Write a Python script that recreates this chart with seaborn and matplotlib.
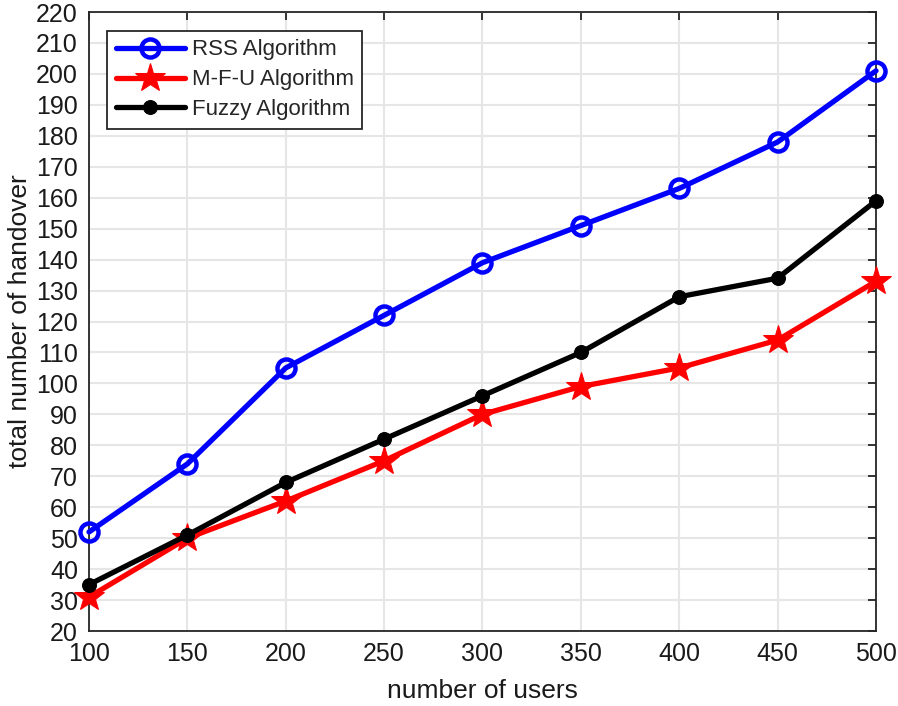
import pandas as pd
import matplotlib
matplotlib.use('Agg')
import matplotlib.pyplot as plt
import seaborn as sns

# Datos
users = [100, 150, 200, 250, 300, 350, 400, 450, 500]
rss = [52, 74, 105, 122, 139, 151, 163, 178, 201]
mfu = [31, 50, 62, 75, 90, 99, 105, 114, 133]
fuzzy = [35, 51, 68, 82, 96, 110, 128, 134, 159]

sns.set_style('whitegrid')
plt.rcParams['font.family'] = ['Liberation Sans', 'DejaVu Sans']

fig = plt.figure(figsize=(8.98, 7.06), dpi=100)
ax = fig.add_axes([0.0991, 0.1062, 0.8764, 0.8768])

df = pd.DataFrame({'users': users, 'rss': rss, 'mfu': mfu, 'fuzzy': fuzzy})

sns.lineplot(data=df, x='users', y='rss', ax=ax, color='#0000ff', lw=3.8,
             marker='o', markersize=13, markerfacecolor='none',
             markeredgecolor='#0000ff', markeredgewidth=3.2, label='RSS Algorithm',
             clip_on=False, zorder=3)
sns.lineplot(data=df, x='users', y='mfu', ax=ax, color='#ff0000', lw=3.8,
             marker='*', markersize=22, markeredgecolor='#ff0000', label='M-F-U Algorithm',
             clip_on=False, zorder=3)
sns.lineplot(data=df, x='users', y='fuzzy', ax=ax, color='black', lw=3.8,
             marker='o', markersize=10, markeredgecolor='black', label='Fuzzy Algorithm',
             clip_on=False, zorder=3)

ax.set_xlim(100, 500)
ax.set_ylim(20, 220)
ax.set_xticks(range(100, 501, 50))
ax.set_yticks(range(20, 221, 10))
ax.grid(True, color='#e6e6e6', lw=1.5)
for s in ax.spines.values():
    s.set_color('#262626')
    s.set_linewidth(1.3)
ax.tick_params(direction='in', length=6, width=1.3, top=True, right=True,
               labelsize=18, colors='#262626', labelcolor='#1a1a1a', pad=8)
ax.set_xlabel('number of users', fontsize=19, labelpad=9, color='#1a1a1a')
ax.set_ylabel('total number of handover', fontsize=19, labelpad=3, color='#1a1a1a')

leg = ax.legend(loc='upper left', bbox_to_anchor=(0.023, 0.97), fontsize=16,
                frameon=True, fancybox=False, handlelength=3.1, borderpad=0.4,
                labelspacing=0.4, handletextpad=0.3, borderaxespad=0)
leg.get_frame().set_edgecolor('#262626')
leg.get_frame().set_linewidth(1.3)
leg.get_frame().set_alpha(1)

plt.savefig('out.png', dpi=100)
